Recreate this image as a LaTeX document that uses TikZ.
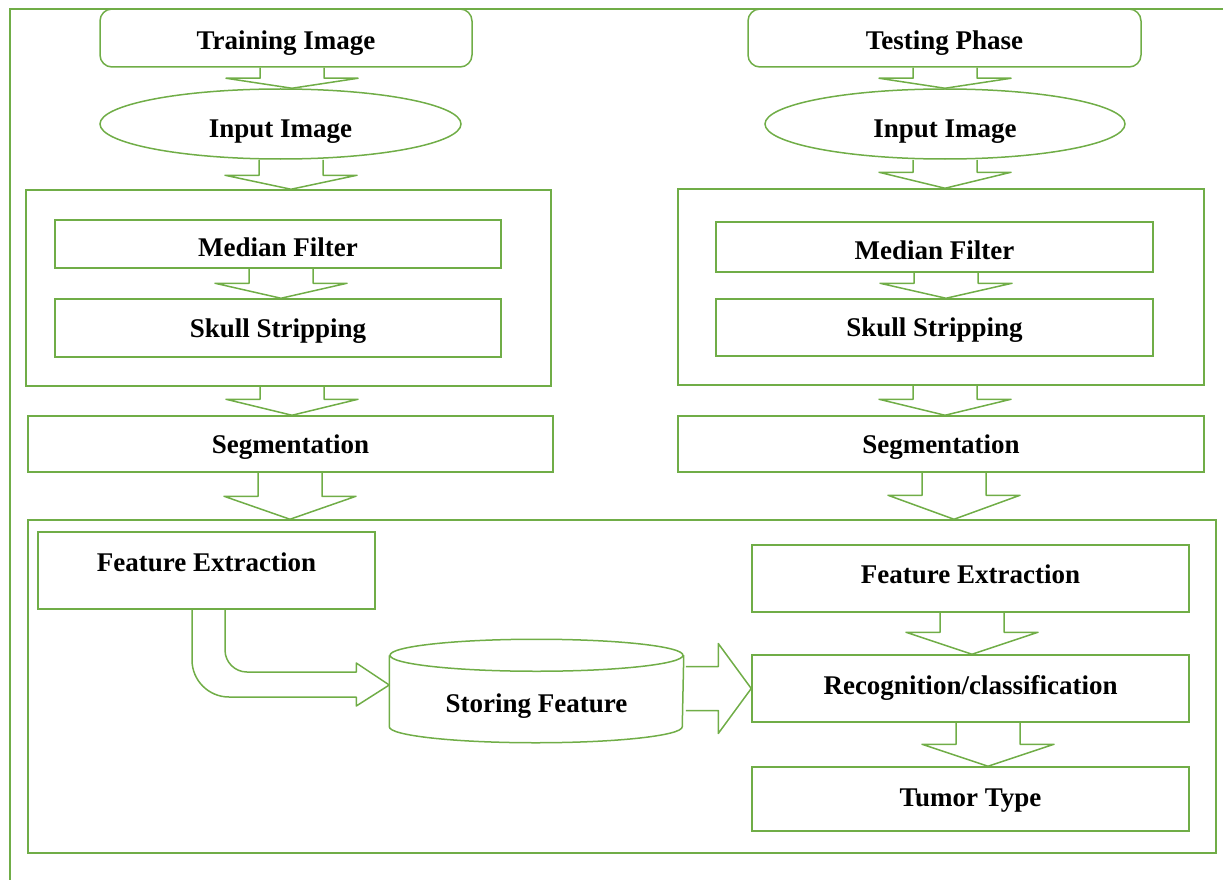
\documentclass[tikz,border=0pt]{standalone}
\usepackage{fontspec}
\setmainfont{Liberation Serif}
\usetikzlibrary{calc, positioning, shapes.geometric}
\definecolor{boxgreen}{HTML}{70AD47}

\tikzset{
    box/.style={draw=boxgreen, line width=1.5pt, inner sep=0pt,
        text height=18pt, text depth=0pt,
        font=\bfseries\fontsize{27}{30}\selectfont},
    frame/.style={draw=boxgreen, line width=1.5pt},
    flow/.style={draw=boxgreen, line width=1.5pt, line join=round}
}

% hollow down arrow: from, to, x, head length
\newcommand{\dnarrow}[4]{%
    \coordinate (top) at (#1.south -| #3,0);
    \coordinate (tip) at (#2.north -| #3,0);
    \draw[flow] ($(top)+(-32,0)$) -- ($(tip)+(-32,-#4)$) -- ($(tip)+(-66,-#4)$) -- (tip)
        -- ($(tip)+(66,-#4)$) -- ($(tip)+(32,-#4)$) -- ($(top)+(32,0)$);
}

\begin{document}
\begin{tikzpicture}[x=1pt, y=-1pt]

\useasboundingbox (0,0) rectangle (1223,880);

% outer frame
\draw[frame] (10,9) rectangle (1240,900);

% Training side
\node[box, rounded corners=12pt, minimum width=372pt, minimum height=58pt, text height=24pt] (trainimg) at (286,38) {Training Image};
\node[box, ellipse, minimum width=361pt, minimum height=70pt, text height=28pt] (inL) at (280.5,124) {Input Image};
\node[box, minimum width=525pt, minimum height=196pt] (preL) at (288.5,288) {};
\node[box, minimum width=446pt, minimum height=48pt, text height=24pt] (medL) at (278,244) {Median Filter};
\node[box, minimum width=446pt, minimum height=58pt] (skullL) at (278,328) {Skull Stripping};
\node[box, minimum width=525pt, minimum height=56pt] (segL) at (290.5,444) {Segmentation};

% Testing side
\node[box, rounded corners=12pt, minimum width=393pt, minimum height=58pt, text height=24pt] (testph) at (944.5,38) {Testing Phase};
\node[box, ellipse, minimum width=360pt, minimum height=70pt, text height=28pt] (inR) at (945,124) {Input Image};
\node[box, minimum width=526pt, minimum height=196pt] (preR) at (941,287) {};
\node[box, minimum width=437pt, minimum height=50pt, text height=24pt] (medR) at (934.5,247) {Median Filter};
\node[box, minimum width=437pt, minimum height=57pt] (skullR) at (934.5,327.5) {Skull Stripping};
\node[box, minimum width=526pt, minimum height=56pt] (segR) at (941,444) {Segmentation};

% Feature / classification block
\node[box, minimum width=1188pt, minimum height=333pt] (bottom) at (622,686.5) {};
\node[box, minimum width=337pt, minimum height=77pt, text depth=16pt] (featL) at (206.5,570.5) {Feature Extraction};
\node[box, draw=none, minimum width=293pt, minimum height=86pt, text height=26pt] (store) at (536.5,699) {Storing Feature};
\node[box, minimum width=437pt, minimum height=67pt, text depth=8pt] (featR) at (970.5,578.5) {Feature Extraction};
\node[box, minimum width=437pt, minimum height=67pt, text depth=6pt] (recog) at (970.5,688.5) {Recognition/classification};
\node[box, minimum width=437pt, minimum height=64pt, text depth=4pt] (tumor) at (970.5,799) {Tumor Type};

% storage cylinder
\draw[frame] (store.north west) -- ($(store.south west)+(0,-16)$)
    arc[start angle=180, end angle=0, x radius=146.5, y radius=16] -- (store.north east);
\draw[frame] (store.north) ellipse[x radius=146.5, y radius=16];

% down arrows
\foreach \a/\b/\x/\h in {trainimg/inL/292/10, inL/preL/291/14, medL/skullL/281/15,
    preL/segL/292/16, segL/bottom/290/23, testph/inR/945/10, inR/preR/945/16,
    medR/skullR/946/15, preR/segR/945/16, segR/bottom/954/24,
    featR/recog/972/22, recog/tumor/988/22}
{
    \dnarrow{\a}{\b}{\x}{\h}
}

% bent arrow into the store
\coordinate (stip) at ($(store.west)+(0,-14)$);
\draw[flow] (featL.south -| 192,0) -- (192,660) arc[start angle=180, end angle=90, radius=37]
    -- ($(stip)+(-33,12)$) -- ($(stip)+(-33,21)$) -- (stip) -- ($(stip)+(-33,-22)$)
    -- ($(stip)+(-33,-13)$) -- (247,672) arc[start angle=90, end angle=180, radius=22]
    -- (featL.south -| 225,0);

% store to classifier
\coordinate (tail) at (store.east |- recog.west);
\draw[flow] ($(tail)+(2,-22)$) -- ($(recog.west)+(-33,-22)$) -- ($(recog.west)+(-33,-45)$)
    -- (recog.west) -- ($(recog.west)+(-33,45)$) -- ($(recog.west)+(-33,22)$) -- ($(tail)+(2,22)$);

\end{tikzpicture}
\end{document}
